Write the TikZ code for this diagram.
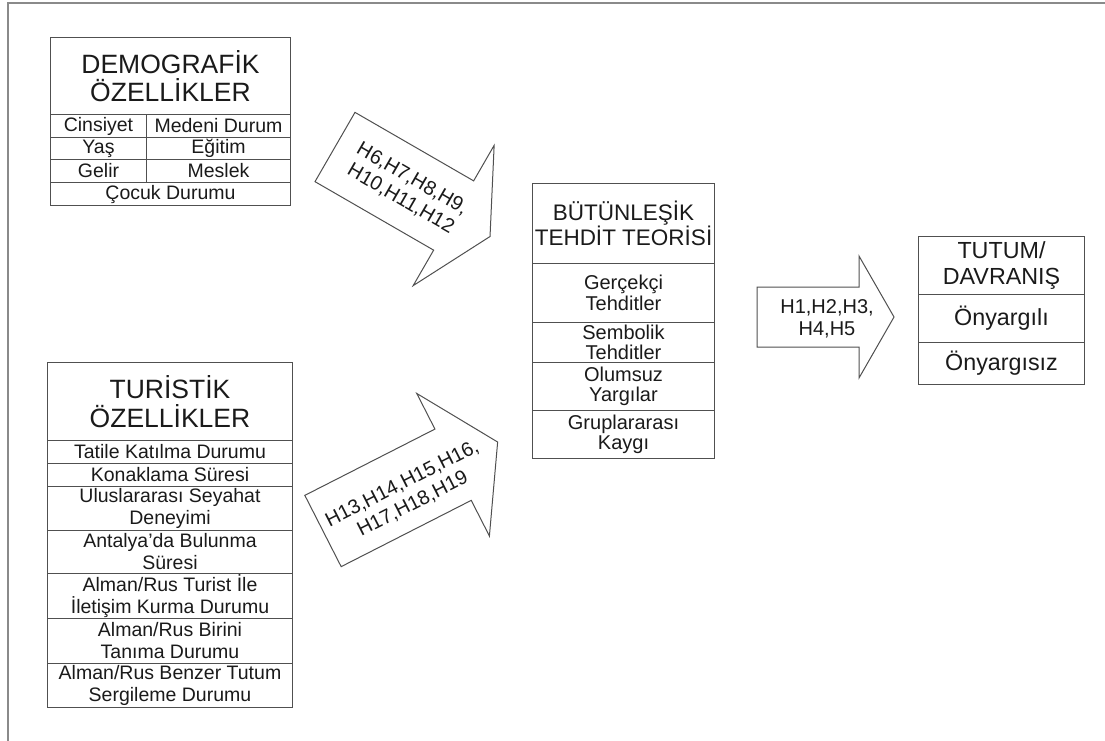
\documentclass[tikz,border=0pt]{standalone}
\usepackage{fontspec}
\setmainfont{Liberation Sans}
\definecolor{linec}{HTML}{505050}
\definecolor{txt}{HTML}{1A1A1A}
\definecolor{framec}{HTML}{8A8A8A}
\newcommand{\fTitle}{\fontsize{26.5}{28.5}\selectfont}
\newcommand{\fMid}{\fontsize{22.5}{21.5}\selectfont}
\newcommand{\fTut}{\fontsize{23.3}{26}\selectfont}
\newcommand{\fRow}{\fontsize{19.5}{22}\selectfont}
\newcommand{\fCen}{\fontsize{20}{20.5}\selectfont}
\newcommand{\fArr}{\fontsize{20}{23}\selectfont}
\begin{document}
\begin{tikzpicture}[x=1pt,y=-1pt,
  cell/.style={draw=linec, line width=1pt, inner sep=0pt, anchor=north west, align=center, text=txt},
  arrowline/.style={draw=linec, line width=1pt, fill=white, line join=miter},
  atext/.style={inner sep=0pt, align=center, text=txt, font=\fArr}]
\useasboundingbox (0,0) rectangle (1105,740);
\draw[framec, line width=1.5pt] (8,745) -- (8,3) -- (1110,3);

% Demografik
\node[cell, minimum width=240pt, minimum height=77pt, font=\fTitle] (demT) at (50,37) {DEMOGRAFİK\\ÖZELLİKLER};
\node[cell, minimum width=96pt, minimum height=23pt, font=\fRow] (d1a) at (50,114) {Cinsiyet};
\node[cell, minimum width=144pt, minimum height=23pt, font=\fRow] (d1b) at (146,114) {Medeni Durum};
\node[cell, minimum width=96pt, minimum height=22pt, font=\fRow] (d2a) at (50,137) {Yaş};
\node[cell, minimum width=144pt, minimum height=22pt, font=\fRow] (d2b) at (146,137) {Eğitim};
\node[cell, minimum width=96pt, minimum height=23pt, font=\fRow] (d3a) at (50,159) {Gelir};
\node[cell, minimum width=144pt, minimum height=23pt, font=\fRow] (d3b) at (146,159) {Meslek};
\node[cell, minimum width=240pt, minimum height=23pt, font=\fRow] (d4) at (50,182) {Çocuk Durumu};

% Turistik
\node[cell, minimum width=245pt, minimum height=78pt, font=\fTitle] (tuT) at (47,362) {TURİSTİK\\ÖZELLİKLER};
\node[cell, minimum width=245pt, minimum height=23pt, font=\fRow] (tu1) at (47,440) {Tatile Katılma Durumu};
\node[cell, minimum width=245pt, minimum height=23pt, font=\fRow] (tu2) at (47,463) {Konaklama Süresi};
\node[cell, minimum width=245pt, minimum height=44pt, font=\fRow] (tu3) at (47,486) {Uluslararası Seyahat\\Deneyimi};
\node[cell, minimum width=245pt, minimum height=43pt, font=\fRow] (tu4) at (47,530) {Antalya’da Bulunma\\Süresi};
\node[cell, minimum width=245pt, minimum height=45pt, font=\fRow] (tu5) at (47,573) {Alman/Rus Turist İle\\İletişim Kurma Durumu};
\node[cell, minimum width=245pt, minimum height=45pt, font=\fRow] (tu6) at (47,618) {Alman/Rus Birini\\Tanıma Durumu};
\node[cell, minimum width=245pt, minimum height=44pt, font=\fRow] (tu7) at (47,663) {Alman/Rus Benzer Tutum\\Sergileme Durumu};

% Butunlesik
\node[cell, minimum width=182pt, minimum height=80pt, font=\fMid] (btT) at (532,183) {BÜTÜNLEŞİK\\TEHDİT TEORİSİ};
\node[cell, minimum width=182pt, minimum height=59pt, font=\fCen] (bt1) at (532,263) {Gerçekçi\\Tehditler};
\node[cell, minimum width=182pt, minimum height=40pt, font=\fCen] (bt2) at (532,322) {Sembolik\\Tehditler};
\node[cell, minimum width=182pt, minimum height=48pt, font=\fCen] (bt3) at (532,362) {Olumsuz\\Yargılar};
\node[cell, minimum width=182pt, minimum height=48pt, font=\fCen] (bt4) at (532,410) {Gruplararası\\Kaygı};

% Tutum
\node[cell, minimum width=166pt, minimum height=58pt, font=\fTut] (tmT) at (918,236) {TUTUM/\\DAVRANIŞ};
\node[cell, minimum width=166pt, minimum height=48pt, font=\fTut] (tm1) at (918,294) {Önyargılı};
\node[cell, minimum width=166pt, minimum height=42pt, font=\fTut] (tm2) at (918,342) {Önyargısız};

% Arrows
\begin{scope}[shift={(335,147)}, rotate=-30]
\path[arrowline] (0,-40) -- (137,-40) -- (137,-81) -- (179,0) -- (137,81) -- (137,40) -- (0,40) -- cycle;
\end{scope}
\begin{scope}[shift={(323,531)}, rotate=27]
\path[arrowline] (0,-40) -- (146,-40) -- (146,-80) -- (196,0) -- (146,80) -- (146,40) -- (0,40) -- cycle;
\end{scope}
\begin{scope}[shift={(757,317)}]
\path[arrowline] (0,-30) -- (102,-30) -- (102,-61) -- (137,0) -- (102,61) -- (102,30) -- (0,30) -- cycle;
\end{scope}
\node[atext, rotate=-30] (h1) at (406.5,189) {H6,H7,H8,H9,\\H10,H11,H12};
\node[atext, rotate=27] (h2) at (407.5,494) {H13,H14,H15,H16,\\H17,H18,H19};
\node[atext, font=\fontsize{20}{22}\selectfont] (h3) at (827,319) {H1,H2,H3,\\H4,H5};
\end{tikzpicture}
\end{document}
